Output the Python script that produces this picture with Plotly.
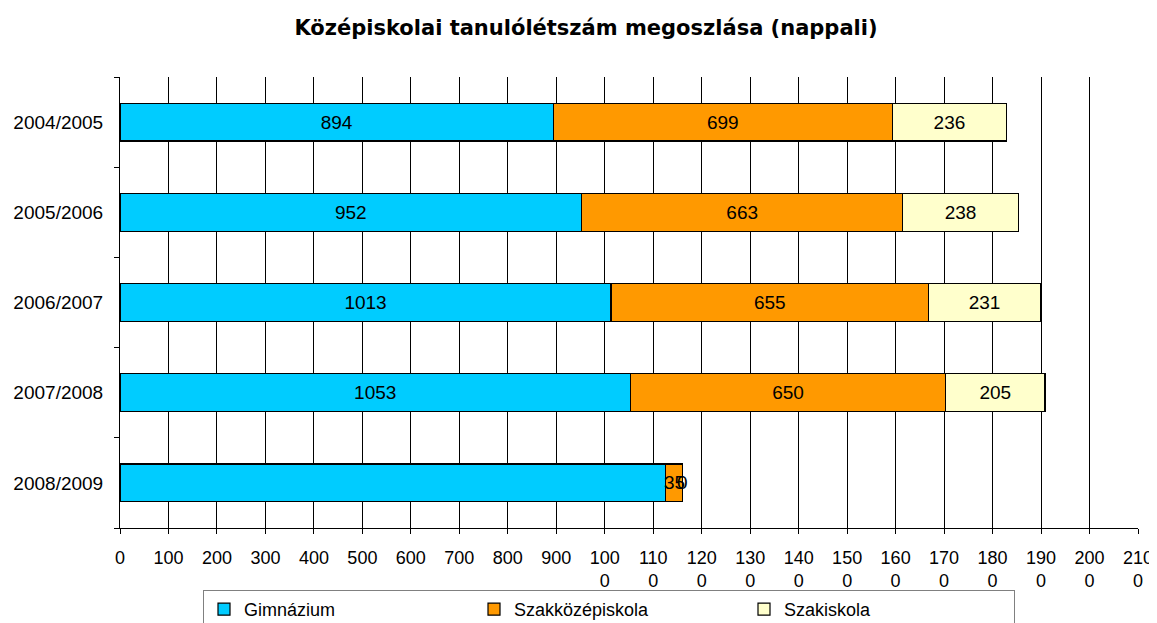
import plotly.graph_objects as go

# data
years = ['2004/2005', '2005/2006', '2006/2007', '2007/2008', '2008/2009']
gimnazium = [894, 952, 1013, 1053, 1126]
szakkozep = [699, 663, 655, 650, 35]
szakiskola = [236, 238, 231, 205, 0]

tick_vals = list(range(0, 2200, 100))
tick_text = [str(v) if v < 1000 else str(v)[:3] + '<br>' + str(v)[3:] for v in tick_vals]

series = [
    ('Gimnázium', gimnazium, '#00CCFF'),
    ('Szakközépiskola', szakkozep, '#FF9900'),
    ('Szakiskola', szakiskola, '#FFFFCC'),
]

W, H = 1149, 615  # page body has an 8px margin

fig = go.Figure()
for name, vals, color in series:
    # the last (tiny) row is labelled separately with annotations
    pos = ['inside'] * (len(vals) - 1) + ['none']
    fig.add_trace(go.Bar(
        y=years, x=vals, name=name, orientation='h',
        marker=dict(color=color, line=dict(color='#000000', width=1.2)),
        text=vals, textposition=pos, insidetextanchor='middle',
        textfont=dict(size=19, color='#000000'),
        constraintext='none',
    ))

# labels for the small segments of the last row, centred on each segment
start = 0
for name, vals, color in series:
    if name != 'Gimnázium':
        fig.add_annotation(x=start + vals[-1] / 2, y=years[-1], text=str(vals[-1]),
                           showarrow=False, font=dict(size=19, color='#000000'))
    start += vals[-1]

fig.update_layout(
    barmode='stack',
    bargap=0.58,
    width=W, height=H,
    margin=dict(l=112, r=19, t=69, b=95),
    paper_bgcolor='white', plot_bgcolor='white',
    font=dict(family='Liberation Sans, Arial, sans-serif', size=18, color='#000000'),
    title=dict(text='<b>Középiskolai tanulólétszám megoszlása (nappali)</b>',
               x=578 / W, xanchor='center', y=1 - 20 / H, yanchor='middle',
               font=dict(family='DejaVu Sans, sans-serif', size=21)),
    showlegend=True,
    legend=dict(orientation='h', xref='container', yref='container',
                x=601 / W, xanchor='center', y=(H - 582) / H, yanchor='top',
                bordercolor='#808080', borderwidth=1, entrywidth=225,
                font=dict(size=18), traceorder='normal'),
)
fig.update_xaxes(
    range=[0, 2100], tickvals=tick_vals, ticktext=tick_text,
    showgrid=True, gridcolor='#000000', gridwidth=1,
    showline=True, linecolor='#000000', linewidth=1,
    ticks='outside', ticklen=5, tickcolor='#000000', ticklabelstandoff=8,
    tickfont=dict(size=18),
    zeroline=False, automargin=False,
)
fig.update_yaxes(
    categoryorder='array', categoryarray=years[::-1],
    showgrid=False, showline=True, linecolor='#000000', linewidth=1,
    ticks='outside', ticklen=5, tickcolor='#000000', tickson='boundaries',
    ticklabelstandoff=12, tickfont=dict(size=19), automargin=False,
)

fig.write_html('out.html')
